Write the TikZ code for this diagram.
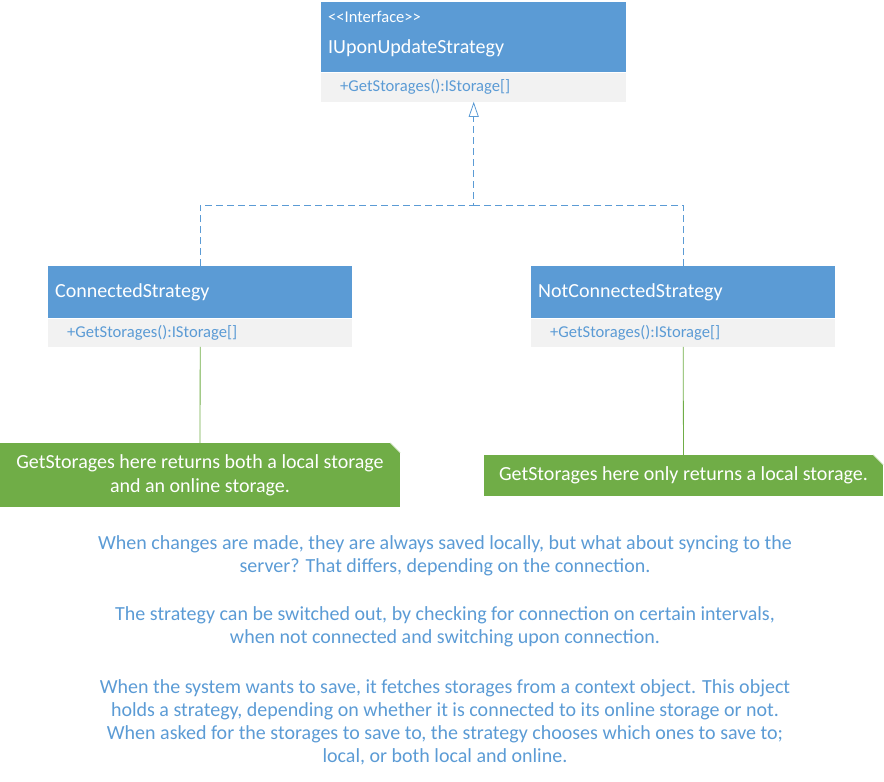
\documentclass[tikz,border=0pt]{standalone}
\usepackage{fontspec}
\setmainfont{Carlito}
\usetikzlibrary{arrows.meta,calc}
\definecolor{umlblue}{HTML}{5B9BD5}
\definecolor{umlgray}{HTML}{F2F2F2}
\definecolor{notegreen}{HTML}{70AD47}
\tikzstyle{classhead} = [fill=umlblue, text=white, anchor=north west, align=left, inner xsep=7pt, inner ysep=0pt, text width=290pt, minimum height=52pt, font=\fontsize{20}{24}\selectfont]
\tikzstyle{classbody} = [fill=umlgray, text=umlblue, anchor=north west, align=left, inner xsep=19pt, inner ysep=0pt, text width=266pt, minimum height=28pt, font=\fontsize{16.6}{19}\selectfont]
\tikzstyle{note} = [fill=notegreen, text=white, align=center, inner sep=0pt, font=\fontsize{20}{24}\selectfont]
\tikzstyle{realize} = [draw=umlblue, line width=.8pt, dash pattern=on 7pt off 4pt]
\tikzstyle{anchorline} = [draw=notegreen, line width=.8pt]
\tikzstyle{remark} = [text=umlblue, align=center, font=\fontsize{20}{23}\selectfont]

\begin{document}
\begin{tikzpicture}[x=1pt,y=-1pt]
    \useasboundingbox (0,0) rectangle (884,782);
    % classes
    \draw (321,2) node[classhead, text width=291pt, minimum height=70pt, text depth=41pt] (ifHead) {\fontsize{16.5}{20}\selectfont{<}{<}Interface{>}{>}\\[7pt]\fontsize{20}{24}\selectfont IUponUpdateStrategy};
    \draw (ifHead.south west) node[classbody, text width=267pt, minimum height=29pt] (ifBody) {+GetStorages():IStorage[]};
    \draw (48,266) node[classhead] (csHead) {ConnectedStrategy};
    \draw (csHead.south west) node[classbody] (csBody) {+GetStorages():IStorage[]};
    \draw (531,266) node[classhead] (ncsHead) {NotConnectedStrategy};
    \draw (ncsHead.south west) node[classbody] (ncsBody) {+GetStorages():IStorage[]};
    % notes
    \draw (200,475) node[note, minimum width=400pt, minimum height=64pt] (csNote) {GetStorages here returns both a local storage\\and an online storage.};
    \draw (683.5,475.5) node[note, minimum width=399pt, minimum height=41pt] (ncsNote) {GetStorages here only returns a local storage.};
    \fill[white] (csNote.north east) -- ++(-10,0) -- ++(10,10) -- cycle;
    \draw[notegreen!40, line width=.6pt] ($(csNote.north east)+(-10,0)$) -- ++(10,10);
    \fill[white] (ncsNote.north east) -- ++(-10,0) -- ++(10,10) -- cycle;
    \draw[notegreen!40, line width=.6pt] ($(ncsNote.north east)+(-10,0)$) -- ++(10,10);
    % realization
    \coordinate (jn) at (ifBody.south |- 0,205);
    \draw[realize, -{Triangle[open, width=10pt, length=15pt]}] (csHead.north) |- (jn) -- (ifBody.south);
    \draw[realize] (ncsHead.north) |- (jn);
    \draw[anchorline] (csBody) -- (csNote);
    \draw[anchorline] (ncsBody) -- (ncsNote);
    % explanation
    \draw (445,555.5) node[remark] (para1) {When changes are made, they are always saved locally, but what about syncing to the\\server? That differs, depending on the connection.};
    \draw (445,626.5) node[remark] (para2) {The strategy can be switched out, by checking for connection on certain intervals,\\when not connected and switching upon connection.};
    \draw (445,722.5) node[remark] (para3) {When the system wants to save, it fetches storages from a context object. This object\\holds a strategy, depending on whether it is connected to its online storage or not.\\When asked for the storages to save to, the strategy chooses which ones to save to;\\local, or both local and online.};
\end{tikzpicture}
\end{document}
